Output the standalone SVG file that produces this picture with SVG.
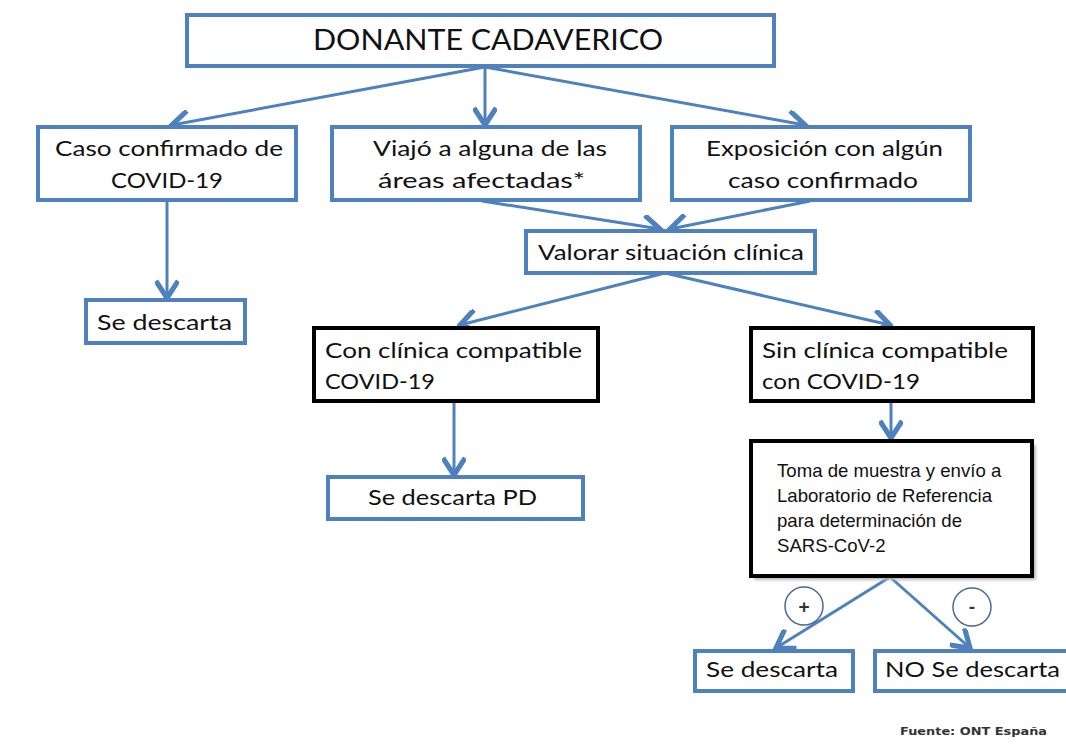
<svg xmlns="http://www.w3.org/2000/svg" width="1066" height="747" viewBox="0 0 1066 747">
<defs>
<marker id="ah" markerUnits="userSpaceOnUse" markerWidth="24" markerHeight="24" refX="12" refY="7" orient="auto" viewBox="0 0 14 14">
<path d="M2,0.5 L12,7 L2,13.5" fill="none" stroke="#4F81BD" stroke-width="3"/>
</marker>
<filter id="blur" x="-10%" y="-10%" width="120%" height="120%"><feGaussianBlur stdDeviation="1.5"/></filter>
</defs>
<style>
.bb{fill:#fff;stroke:#4F81BD;stroke-width:4}
.kb{fill:#fff;stroke:#000;stroke-width:4}
.t{font-family:Lato,"Liberation Sans",sans-serif;font-size:21px;fill:#111}
.a{font-family:"Liberation Sans",Arial,sans-serif;font-size:18.6px;fill:#111}
.c{stroke:#4F81BD;stroke-width:3;fill:none;marker-end:url(#ah)}
.circ{fill:none;stroke:#4a6890;stroke-width:1.5}
.sym{font-family:"Liberation Sans",Arial,sans-serif;font-size:19px;font-weight:bold;fill:#333}
</style>
<rect width="1066" height="747" fill="#fff"/>

<g id="faint-box">
<line x1="9" y1="572" x2="9" y2="747" stroke="#c8c8c8" stroke-width="2" filter="url(#blur)"/>
<line x1="661" y1="572" x2="661" y2="747" stroke="#c8c8c8" stroke-width="2" filter="url(#blur)"/>
</g>

<g id="connectors">
<line class="c" x1="485" y1="67" x2="172" y2="125"/>
<line class="c" x1="485" y1="67" x2="485" y2="125"/>
<line class="c" x1="485" y1="67" x2="805" y2="125"/>
<line class="c" x1="167" y1="201" x2="167" y2="298"/>
<line class="c" x1="482" y1="201" x2="660" y2="229"/>
<line class="c" x1="810" y1="201" x2="670" y2="229"/>
<line class="c" x1="665" y1="273" x2="460" y2="325"/>
<line class="c" x1="665" y1="273" x2="890" y2="325"/>
<line class="c" x1="454" y1="402" x2="454" y2="475"/>
<line class="c" x1="891" y1="402" x2="891" y2="438"/>
<line class="c" x1="890" y1="577" x2="776" y2="648"/>
<line class="c" x1="890" y1="577" x2="970" y2="648"/>
</g>

<g id="n-donante">
<rect class="bb" x="187" y="15" width="587" height="51"/>
<text x="313" y="50" font-family="Lato,'Liberation Sans',sans-serif" font-size="28" fill="#111" textLength="350" lengthAdjust="spacingAndGlyphs">DONANTE CADAVERICO</text>
</g>

<g id="n-caso">
<rect class="bb" x="38" y="127" width="258" height="73"/>
<text class="t" x="55" y="156" textLength="228" lengthAdjust="spacingAndGlyphs">Caso confirmado de</text>
<text class="t" x="111" y="188" textLength="112" lengthAdjust="spacingAndGlyphs">COVID-19</text>
</g>

<g id="n-viajo">
<rect class="bb" x="332" y="127" width="308" height="73"/>
<text class="t" x="373" y="156" textLength="234" lengthAdjust="spacingAndGlyphs">Viajó a alguna de las</text>
<text class="t" x="378" y="188" textLength="207" lengthAdjust="spacingAndGlyphs">áreas afectadas*</text>
</g>

<g id="n-exposicion">
<rect class="bb" x="672" y="127" width="298" height="73"/>
<text class="t" x="706" y="156" textLength="237" lengthAdjust="spacingAndGlyphs">Exposición con algún</text>
<text class="t" x="728" y="188" textLength="190" lengthAdjust="spacingAndGlyphs">caso confirmado</text>
</g>

<g id="n-valorar">
<rect class="bb" x="526" y="231" width="289" height="42"/>
<text class="t" x="538" y="260" textLength="266" lengthAdjust="spacingAndGlyphs">Valorar situación clínica</text>
</g>

<g id="n-descarta1">
<rect class="bb" x="86" y="300" width="159" height="43"/>
<text class="t" x="97" y="330" textLength="135" lengthAdjust="spacingAndGlyphs">Se descarta</text>
</g>

<g id="n-con">
<rect class="kb" x="314" y="328" width="284" height="73"/>
<text class="t" x="325" y="358" textLength="257" lengthAdjust="spacingAndGlyphs">Con clínica compatible</text>
<text class="t" x="325" y="389" textLength="110" lengthAdjust="spacingAndGlyphs">COVID-19</text>
</g>

<g id="n-sin">
<rect class="kb" x="751" y="328" width="282" height="73"/>
<text class="t" x="762" y="358" textLength="246" lengthAdjust="spacingAndGlyphs">Sin clínica compatible</text>
<text class="t" x="762" y="389" textLength="158" lengthAdjust="spacingAndGlyphs">con COVID-19</text>
</g>

<g id="n-descartapd">
<rect class="bb" x="328" y="477" width="255" height="42"/>
<text class="t" x="368" y="505" textLength="169" lengthAdjust="spacingAndGlyphs">Se descarta PD</text>
</g>

<g id="n-toma">
<rect x="754" y="445" width="282" height="135" fill="#bbb" filter="url(#blur)"/>
<rect class="kb" x="751" y="441" width="281" height="135"/>
<text class="a" x="777" y="477">Toma de muestra y envío a</text>
<text class="a" x="777" y="502">Laboratorio de Referencia</text>
<text class="a" x="777" y="527">para determinación de</text>
<text class="a" x="777" y="552">SARS-CoV-2</text>
</g>

<g id="n-plus">
<circle class="circ" cx="804" cy="606" r="19"/>
<text class="sym" x="804" y="613" text-anchor="middle">+</text>
</g>

<g id="n-minus">
<circle class="circ" cx="972" cy="607" r="19"/>
<text class="sym" x="972" y="613" text-anchor="middle">-</text>
</g>

<g id="n-descarta2">
<rect class="bb" x="695" y="651" width="158" height="40"/>
<text class="t" x="706" y="677" textLength="132" lengthAdjust="spacingAndGlyphs">Se descarta</text>
</g>

<g id="n-nodescarta">
<rect class="bb" x="875" y="651" width="195" height="40"/>
<text class="t" x="885" y="677" textLength="175" lengthAdjust="spacingAndGlyphs">NO Se descarta</text>
</g>

<g id="fuente">
<text x="900" y="735" font-family="'DejaVu Sans',sans-serif" font-weight="bold" font-size="11" fill="#333" textLength="147" lengthAdjust="spacingAndGlyphs">Fuente: ONT España</text>
</g>
</svg>
